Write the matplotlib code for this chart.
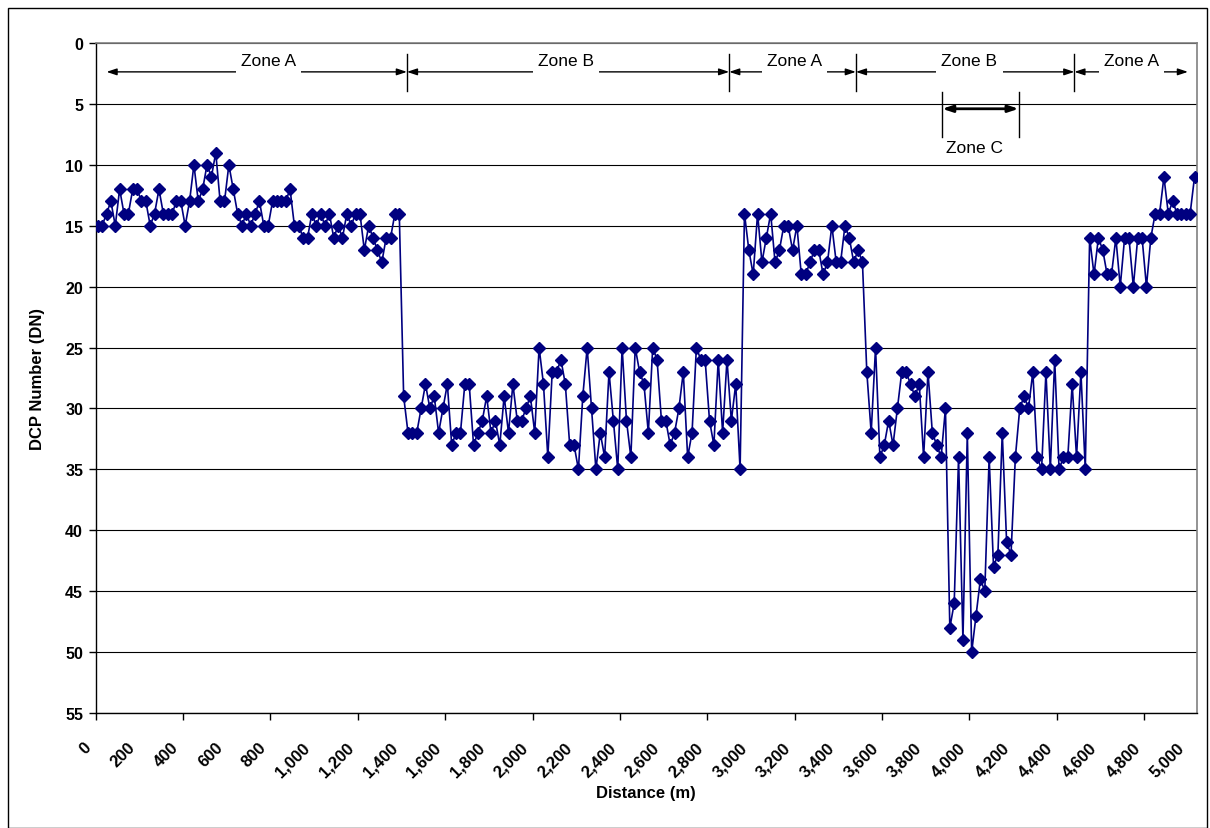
import numpy as np
import matplotlib
matplotlib.use('Agg')
import matplotlib.pyplot as plt
from matplotlib.transforms import ScaledTranslation
from matplotlib.patches import FancyArrowPatch, Rectangle

plt.rcParams['font.family'] = ['Liberation Sans', 'DejaVu Sans']

# ---------------- data ----------------
distance_m = list(range(0, 5040, 20))  # category axis, 20 m spacing

dcp_number = [
    15, 15, 14, 13, 15, 12, 14, 14, 12, 12, 13, 13, 15, 14, 12, 14, 14, 14, 13, 13,
    15, 13, 10, 13, 12, 10, 11, 9, 13, 13, 10, 12, 14, 15, 14, 15, 14, 13, 15, 15,
    13, 13, 13, 13, 12, 15, 15, 16, 16, 14, 15, 14, 15, 14, 16, 15, 16, 14, 15, 14,
    14, 17, 15, 16, 17, 18, 16, 16, 14, 14,
    29, 32, 32, 32, 30, 28, 30, 29, 32, 30, 28, 33, 32, 32, 28, 28, 33, 32, 31, 29,
    32, 31, 33, 29, 32, 28, 31, 31, 30, 29, 32, 25, 28, 34, 27, 27, 26, 28, 33, 33,
    35, 29, 25, 30, 35, 32, 34, 27, 31, 35, 25, 31, 34, 25, 27, 28, 32, 25, 26, 31,
    31, 33, 32, 30, 27, 34, 32, 25, 26, 26, 31, 33, 26, 32, 26, 31, 28, 35,
    14, 17, 19, 14, 18, 16, 14, 18, 17, 15, 15, 17, 15, 19, 19, 18, 17, 17, 19, 18,
    15, 18, 18, 15, 16, 18, 17, 18,
    27, 32, 25, 34, 33, 31, 33, 30, 27, 27, 28, 29, 28, 34, 27, 32, 33, 34, 30, 48,
    46, 34, 49, 32, 50, 47, 44, 45, 34, 43, 42, 32, 41, 42, 34, 30, 29, 30, 27, 34,
    35, 27, 35, 26, 35, 34, 34, 28, 34, 27, 35,
    16, 19, 16, 17, 19, 19, 16, 20, 16, 16, 20, 16, 16, 20, 16, 14, 14, 11, 14, 13,
    14, 14, 14, 14, 11,
]

x_tick_values = list(range(0, 5001, 200))
x_tick_labels = [f"{v:,}" for v in x_tick_values]
x_tickmark_values = list(range(-10, 4800, 400))
y_tick_values = list(range(0, 56, 5))

zone_bounds = [40, 1415, 2890, 3470, 4470, 4990]
zone_names = ['Zone A', 'Zone B', 'Zone A', 'Zone B', 'Zone A']
zone_label_x = [781, 2144, 3189, 3990, 4732]
zone_c_bounds = [3865, 4215]
zone_c_label_x = 4011

# ---------------- figure ----------------
fig = plt.figure(figsize=(12.10, 8.29), dpi=100)
ax = fig.add_axes([95.6 / 1210, 1 - 714 / 829, (1196.7 - 95.6) / 1210, (714 - 44) / 829])

navy = '#000080'
ax.plot(distance_m, dcp_number, color=navy, lw=1.2, marker='D', ms=6,
        mec=navy, mfc=navy, zorder=3)

ax.set_xlim(-10, 5030)
ax.set_ylim(55, 0)

# y axis
ax.set_yticks(y_tick_values)
ax.set_yticklabels([str(v) for v in y_tick_values], fontsize=11.5, fontweight='bold')
ax.tick_params(axis='y', direction='out', length=5, width=1, pad=4, color='black')
ax.yaxis.grid(True, color='black', lw=0.8, zorder=0)
ax.set_axisbelow(True)

# x axis: labels every 200 m, tick marks every 400 m (at category boundaries)
ax.set_xticks(x_tick_values)
ax.set_xticklabels(x_tick_labels, fontsize=12, fontweight='bold', rotation=45,
                   ha='right', va='top', rotation_mode='anchor')
ax.tick_params(axis='x', which='major', length=0, pad=19)
ax.set_xticks(x_tickmark_values, minor=True)
ax.tick_params(axis='x', which='minor', direction='out', length=5, width=1, color='black')
offset = ScaledTranslation(-14 / 100, 0, fig.dpi_scale_trans)
for lbl in ax.get_xticklabels():
    lbl.set_transform(lbl.get_transform() + offset)

for side in ['left', 'bottom']:
    ax.spines[side].set_color('black')
    ax.spines[side].set_linewidth(1.0)
for side in ['top', 'right']:
    ax.spines[side].set_color('#808080')
    ax.spines[side].set_linewidth(1.2)

ax.set_xlabel('Distance (m)', fontsize=12, fontweight='bold')
ax.xaxis.set_label_coords(0.5, -0.108)
ax.set_ylabel('DCP Number (DN)', fontsize=12, fontweight='bold')
ax.yaxis.set_label_coords(-0.046, 0.5)

# ---------------- zone annotations ----------------
arrow_y = 2.37
arrow_style = '<|-|>,head_length=0.6,head_width=0.2'
for i in range(len(zone_names)):
    a = FancyArrowPatch((zone_bounds[i], arrow_y), (zone_bounds[i + 1], arrow_y),
                        arrowstyle=arrow_style, mutation_scale=10, lw=1.0,
                        color='black', shrinkA=0, shrinkB=0, zorder=4)
    ax.add_patch(a)
    ax.text(zone_label_x[i], 1.45, zone_names[i], fontsize=12.5, ha='center',
            va='center', zorder=5,
            bbox=dict(boxstyle='square,pad=0.3', fc='white', ec='none'))
for xb in zone_bounds[1:-1]:
    ax.plot([xb, xb], [0.9, 3.9], color='black', lw=1.0, zorder=4)

zc_y = 5.4
a = FancyArrowPatch((zone_c_bounds[0], zc_y), (zone_c_bounds[1], zc_y),
                    arrowstyle=arrow_style, mutation_scale=10, lw=2.0,
                    color='black', shrinkA=0, shrinkB=0, zorder=4)
ax.add_patch(a)
for xb in zone_c_bounds:
    ax.plot([xb, xb], [4.0, 7.7], color='black', lw=1.0, zorder=4)
ax.text(zone_c_label_x, 8.6, 'Zone C', fontsize=12.5, ha='center', va='center', zorder=5)

# outer chart border
fig.patches.append(Rectangle((8 / 1210, 0.0), 1199 / 1210, 1 - 9 / 829,
                             transform=fig.transFigure, fill=False,
                             ec='black', lw=1.0))

fig.savefig('out.png', dpi=100)
